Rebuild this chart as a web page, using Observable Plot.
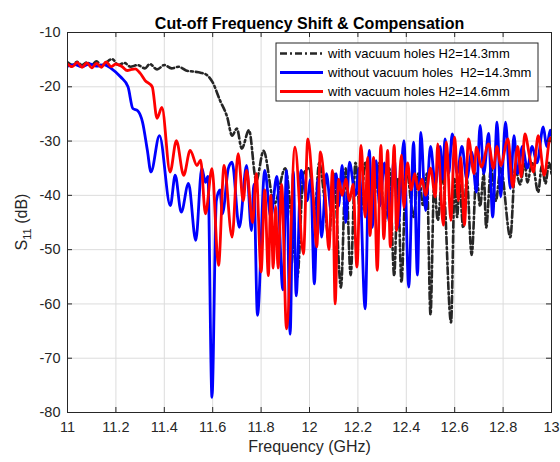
<!DOCTYPE html>
<html>
<head>
<meta charset="utf-8">
<script src="https://cdn.jsdelivr.net/npm/d3@7"></script>
<script src="https://cdn.jsdelivr.net/npm/@observablehq/plot@0.6"></script>
<style>
  html, body { margin: 0; padding: 0; background: #fff; }
  #chart { width: 560px; height: 462px; }
</style>
</head>
<body>
<div id="chart"></div>
<script>
// ---- data (frequency GHz, S11 dB) ----
const titleText = "Cut-off Frequency Shift & Compensation";
const xLabel = "Frequency (GHz)";
const seriesNames = ["with vacuum holes H2=14.3mm", "without vacuum holes  H2=14.3mm", "with vacuum holes H2=14.6mm"];
const xTicks = [11, 11.2, 11.4, 11.6, 11.8, 12, 12.2, 12.4, 12.6, 12.8, 13];
const yTicks = [-80, -70, -60, -50, -40, -30, -20, -10];

const blackPts = [[11.00,-15.5],[11.02,-16.0],[11.04,-15.4],[11.06,-16.0],[11.08,-15.5],[11.10,-16.0],[11.12,-15.3],[11.14,-16.1],[11.16,-15.5],[11.185,-14.9],[11.21,-16.0],[11.235,-15.6],[11.26,-16.3],[11.29,-16.0],[11.32,-16.6],[11.34,-15.8],[11.37,-16.8],[11.40,-16.0],[11.43,-16.6],[11.46,-16.3],[11.49,-17.0],[11.52,-17.2],[11.55,-17.4],[11.575,-17.8],[11.60,-19.2],[11.63,-22.5],[11.66,-25.6],[11.68,-29.0],[11.70,-27.7],[11.72,-31.4],[11.75,-28.0],[11.78,-37.3],[11.81,-31.8],[11.855,-41.5],[11.90,-35.0],[11.925,-44],[11.95,-55.0],[11.975,-36],[12.00,-35],
[12.02,-44],[12.04,-34],[12.06,-40],[12.08,-48.3],[12.10,-36],[12.13,-57],[12.15,-35],[12.17,-54.7],[12.19,-34],[12.21,-43.7],[12.23,-34],[12.26,-42],[12.29,-34],[12.31,-45],[12.33,-35],[12.35,-54.8],[12.365,-37],[12.38,-56],[12.40,-35],[12.43,-44],[12.45,-36],[12.47,-42],[12.485,-36],[12.50,-62],[12.515,-38],[12.53,-44.6],[12.55,-36],[12.585,-63.4],[12.60,-37],[12.61,-44],[12.62,-38],[12.635,-46],[12.65,-37],[12.67,-51],[12.69,-36],[12.705,-42],[12.72,-36],[12.73,-45.9],[12.75,-35],[12.77,-41],[12.79,-35],[12.83,-47.7],[12.85,-35],[12.87,-38],[12.89,-34],[12.90,-37.6],[12.92,-34],[12.945,-39.4],[12.96,-34.5],[12.975,-37.8],[12.99,-34],[13.00,-36]];

const bluePts = [[11.00,-16.2],[11.03,-15.9],[11.06,-16.3],[11.09,-15.8],[11.12,-16.2],[11.15,-15.9],[11.18,-16.6],[11.22,-18.2],[11.25,-20.0],[11.27,-24.0],[11.29,-24.4],[11.31,-26.5],[11.33,-31.7],[11.345,-35.7],[11.38,-29.0],[11.425,-41.9],[11.445,-36.3],[11.47,-43.1],[11.50,-37.8],[11.53,-48.3],[11.555,-35.0],[11.57,-37.6],[11.58,-36.5],[11.597,-77.2],[11.615,-41],[11.63,-39],[11.64,-43.4],[11.665,-35],[11.68,-33.9],[11.71,-45.9],[11.74,-34.5],[11.76,-46.5],[11.77,-38],[11.785,-62.1],[11.815,-35.4],[11.84,-44],[11.865,-36.5],[11.89,-57.4],[11.905,-35.4],[11.92,-65.6],[11.933,-35.6],[11.945,-58.5],[11.965,-35.4],[11.99,-41],[12.005,-37],[12.02,-56.3],[12.035,-37],[12.05,-47.7],[12.07,-36],[12.09,-43],[12.11,-36],[12.12,-42],[12.135,-34.5],[12.15,-45],[12.165,-33.9],[12.19,-40],[12.205,-35],[12.23,-60.9],[12.247,-31.7],[12.26,-45.9],[12.275,-33.6],[12.29,-42],[12.31,-34],[12.33,-45],[12.35,-33],[12.366,-45.9],[12.39,-29.9],[12.41,-56.9],[12.43,-30.2],[12.446,-54.7],[12.46,-28.4],[12.48,-42.8],[12.50,-31],[12.52,-38],[12.54,-31],[12.55,-37],[12.56,-29.6],[12.575,-36],[12.59,-28.7],[12.61,-36],[12.63,-31],[12.65,-37],[12.67,-32],[12.69,-39.4],[12.705,-27.1],[12.72,-36],[12.74,-28.6],[12.757,-44],[12.775,-26.5],[12.79,-40.3],[12.81,-26.5],[12.83,-38.7],[12.845,-29],[12.86,-36],[12.88,-31],[12.90,-35],[12.92,-31],[12.94,-34],[12.966,-27.4],[12.98,-31],[12.995,-28],[13.00,-29]];

const redPts = [[11.00,-15.8],[11.02,-16.3],[11.04,-15.5],[11.06,-16.4],[11.08,-15.6],[11.10,-16.5],[11.12,-15.7],[11.14,-16.4],[11.16,-15.4],[11.18,-16.3],[11.20,-15.8],[11.226,-16.3],[11.247,-17.0],[11.265,-16.8],[11.28,-16.7],[11.30,-17.5],[11.32,-18.8],[11.35,-20.0],[11.37,-25.8],[11.39,-23.8],[11.424,-35.7],[11.45,-29.9],[11.48,-36.3],[11.507,-31.7],[11.535,-34.5],[11.55,-33.5],[11.57,-43.4],[11.597,-35.1],[11.624,-52.9],[11.647,-34.5],[11.68,-47.7],[11.705,-32.3],[11.726,-41],[11.74,-35.4],[11.765,-45],[11.78,-36],[11.80,-54.1],[11.815,-39],[11.83,-54.8],[11.84,-40],[11.85,-53.4],[11.86,-42],[11.87,-53.4],[11.885,-38],[11.905,-64.6],[11.94,-31.1],[11.975,-50.8],[11.993,-29.6],[12.015,-40],[12.03,-49.5],[12.045,-32],[12.065,-40],[12.08,-50],[12.095,-35.4],[12.106,-60],[12.12,-37],[12.135,-40],[12.15,-37],[12.165,-41],[12.18,-38],[12.196,-53.2],[12.213,-30.8],[12.23,-44],[12.24,-33],[12.25,-47.4],[12.265,-33],[12.28,-53.8],[12.295,-30.8],[12.307,-48],[12.323,-31.7],[12.334,-49.5],[12.35,-30.8],[12.36,-46.5],[12.38,-32.6],[12.39,-42.2],[12.405,-34],[12.42,-39],[12.435,-36],[12.45,-39],[12.465,-37],[12.48,-40],[12.50,-35],[12.52,-40.3],[12.53,-30.5],[12.553,-45.5],[12.566,-30.2],[12.584,-44.6],[12.60,-29.3],[12.615,-41],[12.625,-33],[12.64,-45.5],[12.657,-29.6],[12.68,-36],[12.69,-31.1],[12.71,-34.8],[12.74,-30.5],[12.76,-35],[12.775,-31],[12.79,-34.5],[12.82,-29.6],[12.84,-38.5],[12.86,-31],[12.875,-36.6],[12.89,-28.7],[12.91,-33],[12.925,-35.7],[12.945,-29],[12.97,-36.3],[12.995,-29.4],[13.00,-30]];

const colors = ["#262626", "#0000ff", "#ff0000"];
const dashes = ["7,3,2,3", null, null];

// ---- build ----
const toRows = pts => pts.map(([f, db]) => ({f, db}));
const allSeries = [blackPts, bluePts, redPts].map(toRows);

const FONT = "'Liberation Sans', Arial, Helvetica, sans-serif";
const W = 560, H = 462;
const mL = 67, mR = 9, mT = 32, mB = 50;
const fw = W - mL - mR, fh = H - mT - mB;
const TICK = 5;

const lineMarks = allSeries.map((rows, i) => Plot.line(rows, {
  x: "f", y: "db", stroke: colors[i], strokeWidth: i === 0 ? 2.6 : 2.8,
  strokeDasharray: dashes[i] || undefined, curve: "monotone-x", clip: true,
  strokeLinejoin: "round"
}));

const chart = Plot.plot({
  width: W, height: H,
  marginLeft: mL, marginRight: mR, marginTop: mT, marginBottom: mB,
  style: { fontFamily: FONT, fontSize: "14.5px", color: "#262626", background: "#fff" },
  x: { domain: [11, 13] },
  y: { domain: [-80, -10] },
  marks: [
    Plot.gridX(xTicks, { stroke: "#dcdcdc", strokeOpacity: 1 }),
    Plot.gridY(yTicks, { stroke: "#dcdcdc", strokeOpacity: 1 }),
    ...lineMarks,
    Plot.frame({ stroke: "#262626", strokeWidth: 1 }),
    // inward ticks on all four sides
    Plot.ruleX(xTicks, { stroke: "#262626", insetTop: fh - TICK }),
    Plot.ruleX(xTicks, { stroke: "#262626", insetBottom: fh - TICK }),
    Plot.ruleY(yTicks, { stroke: "#262626", insetRight: fw - TICK }),
    Plot.ruleY(yTicks, { stroke: "#262626", insetLeft: fw - TICK }),
    Plot.axisX(xTicks, { tickSize: 0, tickPadding: 9, label: null, tickFormat: d => String(d), fontSize: 14.5 }),
    Plot.axisY(yTicks, { tickSize: 0, tickPadding: 7, label: null, tickFormat: d => String(d), fontSize: 14.5 }),
    Plot.text([titleText], { frameAnchor: "top", dy: -15, fontWeight: "bold", fontSize: 16, fill: "#000" }),
    Plot.text([xLabel], { frameAnchor: "bottom", dy: 39, fontSize: 16, fill: "#262626" })
  ]
});
document.getElementById("chart").appendChild(chart);

// ---- y label with subscript ----
const svg = d3.select(chart);
const yl = svg.append("text")
  .attr("transform", `translate(27,${mT + fh / 2}) rotate(-90)`)
  .attr("text-anchor", "middle")
  .attr("font-family", FONT).attr("font-size", 16).attr("fill", "#262626");
yl.append("tspan").text("S");
yl.append("tspan").attr("font-size", 11).attr("dy", 4).text("11");
yl.append("tspan").attr("dy", -4).text(" (dB)");

// ---- legend ----
const lg = svg.append("g").attr("font-family", FONT).attr("font-size", 13).attr("fill", "#000")
  .attr("text-anchor", "start");
const lx = 276, ly = 43, lw = 262, lh = 58;
lg.append("rect").attr("x", lx).attr("y", ly).attr("width", lw).attr("height", lh)
  .attr("fill", "#fff").attr("stroke", "#262626").attr("stroke-width", 1);
seriesNames.forEach((name, i) => {
  const cy = ly + 10.5 + i * 19;
  const ln = lg.append("line").attr("x1", lx + 4).attr("x2", lx + 47).attr("y1", cy).attr("y2", cy)
    .attr("stroke", colors[i]).attr("stroke-width", i === 0 ? 2.6 : 2.8);
  if (dashes[i]) ln.attr("stroke-dasharray", dashes[i]);
  lg.append("text").attr("x", lx + 52).attr("y", cy + 4.6).attr("text-anchor", "start")
    .attr("xml:space", "preserve").style("white-space", "pre").text(name);
});
</script>
</body>
</html>
